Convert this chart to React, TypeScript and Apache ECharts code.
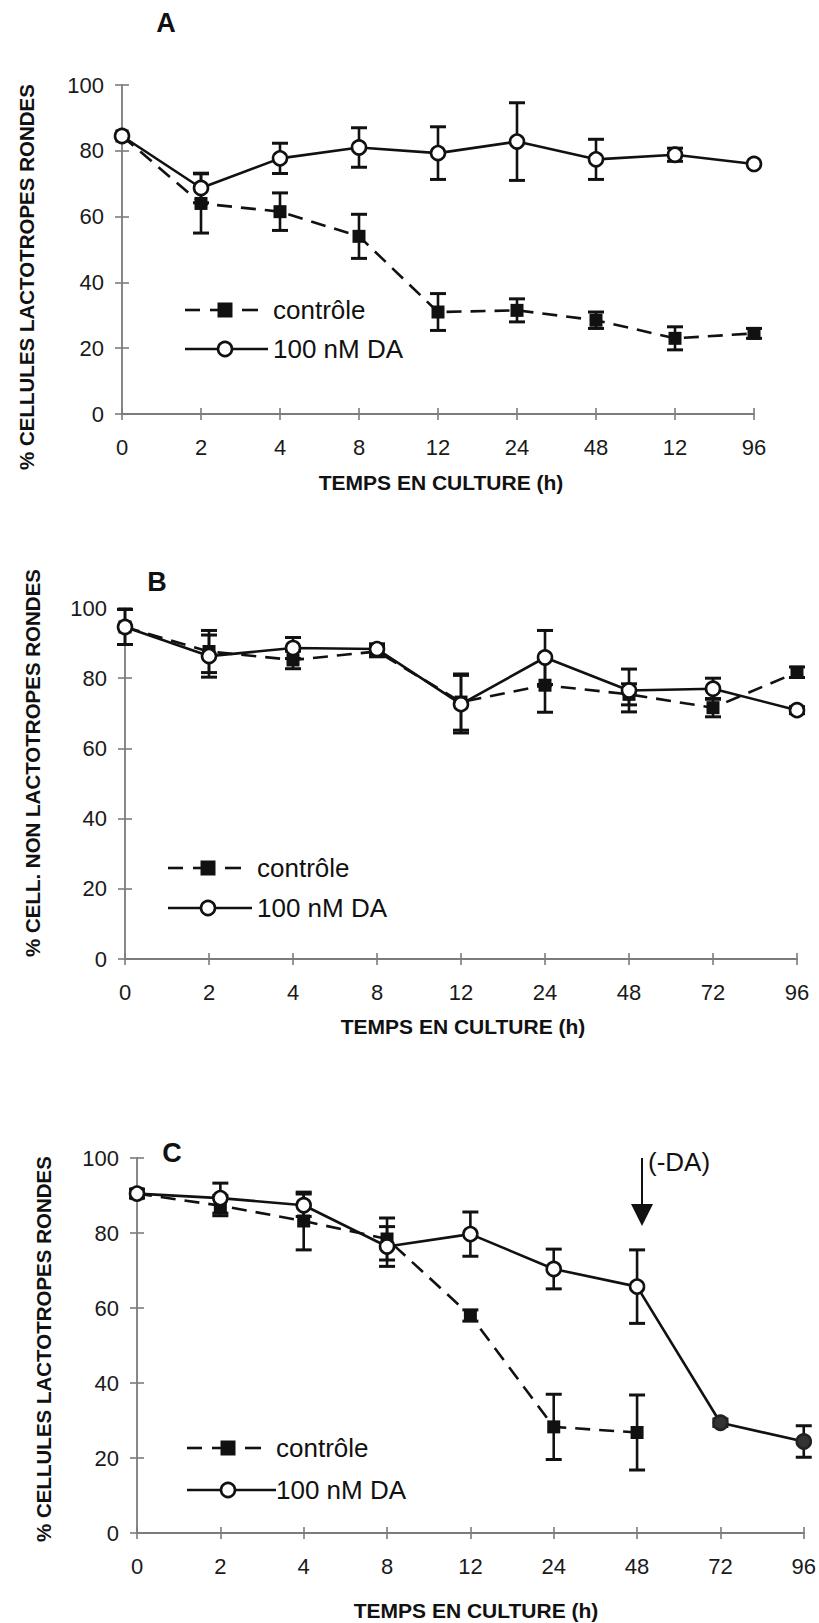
import React, { useEffect, useRef } from "react";
import * as echarts from "echarts";

// ---------- data ----------
const HOURS = ["0", "2", "4", "8", "12", "24", "48", "72", "96"];
const A_TICK_LABELS = ["0", "2", "4", "8", "12", "24", "48", "12", "96"];
const B_TICK_LABELS = ["0", "2", "4", "8", "12", "24", "48", "72", "96"];
const C_TICK_LABELS = ["0", "2", "4", "8", "12", "24", "48", "72", "96"];

// Panel A : % cellules lactotropes rondes
const CTRL_A = [84.5, 64, 61.5, 54, 31, 31.5, 28.5, 23, 24.5];
const CTRL_A_ERR = [0, 9, 5.7, 6.7, 5.6, 3.5, 2.5, 3.5, 1.5];
const DA_A = [84.5, 68.7, 77.7, 81, 79.3, 82.8, 77.4, 78.8, 76];
const DA_A_ERR = [0, 4.5, 4.6, 6, 8, 11.8, 6.1, 2, 0];

// Panel B : % cell. non lactotropes rondes
const CTRL_B = [94.6, 87.6, 85.2, 87.6, 73.2, 78, 75.4, 71.6, 81.7];
const CTRL_B_ERR = [5, 6, 2.5, 1.5, 8, 7.7, 3, 2.6, 1.5];
const DA_B = [94.6, 86.3, 88.6, 88.3, 72.6, 85.9, 76.5, 77, 70.9];
const DA_B_ERR = [5, 6, 3, 1.5, 8.2, 7.7, 6.1, 3, 1];

// Panel C : % cellules lactotropes rondes, DA withdrawn after 48 h
const CTRL_C = [90.5, 87.3, 83.2, 78.4, 58, 28.3, 26.8, null, null];
const CTRL_C_ERR = [0, 2.7, 7.7, 5.6, 1.5, 8.7, 10, 0, 0];
const DA_C = [90.5, 89.3, 87.4, 76.4, 79.7, 70.4, 65.7, 29.4, 24.4];
const DA_C_ERR = [1.2, 4, 3, 5.3, 5.9, 5.3, 9.8, 1, 4.2];
const DA_WITHDRAWN_AFTER = "48";

const Y_MIN = 0;
const Y_MAX = 100;
const Y_STEP = 20;

const LEGEND_CTRL = "contrôle";
const LEGEND_DA = "100 nM DA";
const X_TITLE = "TEMPS EN CULTURE (h)";
const Y_TITLE_A = "% CELLULES LACTOTROPES RONDES";
const Y_TITLE_B = "% CELL. NON LACTOTROPES RONDES";
const Y_TITLE_C = "% CELLULES LACTOTROPES RONDES";
const ARROW_LABEL = "(-DA)";

// ---------- styling ----------
const FONT = '"Liberation Sans", Arial, Helvetica, sans-serif';
const INK = "#111";
const AXIS_GREY = "#7c7c7c";

const PANELS = [
  {
    grid: { left: 122, top: 85, width: 632, height: 329 },
    labels: A_TICK_LABELS,
    ctrl: CTRL_A, ctrlErr: CTRL_A_ERR, da: DA_A, daErr: DA_A_ERR,
    filledAfter: null as string | null,
  },
  {
    grid: { left: 125, top: 608, width: 672, height: 351 },
    labels: B_TICK_LABELS,
    ctrl: CTRL_B, ctrlErr: CTRL_B_ERR, da: DA_B, daErr: DA_B_ERR,
    filledAfter: null as string | null,
  },
  {
    grid: { left: 137, top: 1158, width: 667, height: 375 },
    labels: C_TICK_LABELS,
    ctrl: CTRL_C, ctrlErr: CTRL_C_ERR, da: DA_C, daErr: DA_C_ERR,
    filledAfter: DA_WITHDRAWN_AFTER as string | null,
  },
];

function errData(vals: (number | null)[], errs: number[]) {
  const out: number[][] = [];
  vals.forEach((v, i) => {
    if (v == null || !errs[i]) return;
    out.push([i, v - errs[i], v + errs[i]]);
  });
  return out;
}

function errSeries(data: number[][], g: number) {
  return {
    type: "custom",
    xAxisIndex: g * 2,
    yAxisIndex: g * 2,
    z: 1,
    clip: false,
    silent: true,
    data,
    encode: { x: 0, y: [1, 2] },
    renderItem: (_p: any, api: any) => {
      const x = api.value(0);
      const lo = api.coord([x, api.value(1)]);
      const hi = api.coord([x, api.value(2)]);
      const half = 8;
      const style = { stroke: INK, lineWidth: 2.6 };
      return {
        type: "group",
        children: [
          { type: "line", shape: { x1: lo[0], y1: lo[1], x2: hi[0], y2: hi[1] }, style },
          { type: "line", shape: { x1: lo[0] - half, y1: lo[1], x2: lo[0] + half, y2: lo[1] }, style: { stroke: INK, lineWidth: 3 } },
          { type: "line", shape: { x1: hi[0] - half, y1: hi[1], x2: hi[0] + half, y2: hi[1] }, style: { stroke: INK, lineWidth: 3 } },
        ],
      };
    },
  };
}

function textEl(text: string, x: number, y: number, size: number, bold: boolean, align = "left", rotation = 0) {
  return {
    type: "text",
    x,
    y,
    rotation,
    silent: true,
    style: {
      text,
      fill: INK,
      fontSize: size,
      fontWeight: bold ? "bold" : "normal",
      fontFamily: FONT,
      textAlign: align,
      align,
      textVerticalAlign: "middle",
      verticalAlign: "middle",
    },
  };
}

function lineEl(x1: number, y1: number, x2: number, y2: number, w = 2.6) {
  return { type: "line", silent: true, shape: { x1, y1, x2, y2 }, style: { stroke: INK, lineWidth: w } };
}

function legendEls(x0: number, yCtrl: number, yDa: number, sym: number, xEndDa: number, textX: number) {
  return [
    lineEl(x0, yCtrl, x0 + 15, yCtrl),
    lineEl(x0 + 25, yCtrl, sym, yCtrl),
    { type: "rect", silent: true, shape: { x: sym - 7.5, y: yCtrl - 7.5, width: 15, height: 15 }, style: { fill: INK } },
    lineEl(sym + 17, yCtrl, sym + 33, yCtrl),
    textEl(LEGEND_CTRL, textX, yCtrl, 26, false),
    lineEl(x0, yDa, xEndDa, yDa),
    { type: "circle", silent: true, shape: { cx: sym, cy: yDa, r: 7 }, style: { fill: "#fff", stroke: INK, lineWidth: 2.6 } },
    textEl(LEGEND_DA, textX, yDa, 26, false),
  ];
}

function buildOption() {
  const grid: any[] = [];
  const xAxis: any[] = [];
  const yAxis: any[] = [];
  const series: any[] = [];

  PANELS.forEach((p, g) => {
    grid.push({ ...p.grid, containLabel: false });
    const tickStyle = { color: AXIS_GREY, width: 1.6 };
    xAxis.push({
      gridIndex: g,
      type: "category",
      data: HOURS,
      boundaryGap: false,
      position: "bottom",
      axisLine: { show: true, lineStyle: { color: AXIS_GREY, width: 1.8 } },
      axisTick: { show: true, interval: 0, length: 6, lineStyle: tickStyle },
      axisLabel: {
        interval: 0,
        margin: 22,
        fontSize: 22,
        fontFamily: FONT,
        color: "#1a1a1a",
        formatter: (_v: string, i: number) => p.labels[i],
      },
      splitLine: { show: false },
    });
    xAxis.push({
      gridIndex: g,
      type: "category",
      data: HOURS,
      boundaryGap: false,
      position: "bottom",
      axisLine: { show: false },
      axisTick: { show: true, inside: true, interval: 0, length: 6, lineStyle: tickStyle },
      axisLabel: { show: false },
      splitLine: { show: false },
    });
    yAxis.push({
      gridIndex: g,
      type: "value",
      min: Y_MIN,
      max: Y_MAX,
      interval: Y_STEP,
      position: "left",
      axisLine: { show: true, lineStyle: { color: AXIS_GREY, width: 1.8 } },
      axisTick: { show: true, length: 7, lineStyle: tickStyle },
      axisLabel: { margin: 18, fontSize: 22, fontFamily: FONT, color: "#1a1a1a" },
      splitLine: { show: false },
    });
    yAxis.push({
      gridIndex: g,
      type: "value",
      min: Y_MIN,
      max: Y_MAX,
      interval: Y_STEP,
      position: "left",
      axisLine: { show: false },
      axisTick: { show: true, inside: true, length: 7, lineStyle: tickStyle },
      axisLabel: { show: false },
      splitLine: { show: false },
    });

    series.push(errSeries(errData(p.ctrl, p.ctrlErr), g));
    series.push(errSeries(errData(p.da, p.daErr), g));

    series.push({
      name: LEGEND_CTRL,
      type: "line",
      xAxisIndex: g * 2,
      yAxisIndex: g * 2,
      z: 3,
      data: p.ctrl,
      connectNulls: false,
      symbol: "rect",
      symbolSize: 13,
      itemStyle: { color: INK },
      lineStyle: { color: INK, width: 2.6, type: [15, 9] },
      clip: false,
      silent: true,
    });

    const afterIdx = p.filledAfter == null ? Infinity : HOURS.indexOf(p.filledAfter);
    series.push({
      name: LEGEND_DA,
      type: "line",
      xAxisIndex: g * 2,
      yAxisIndex: g * 2,
      z: 4,
      data: p.da.map((v, i) =>
        i > afterIdx ? { value: v, itemStyle: { color: "#333", borderColor: "#222" } } : v
      ),
      symbol: "circle",
      symbolSize: 14,
      showAllSymbol: true,
      itemStyle: { color: "#fff", borderColor: INK, borderWidth: 2.6 },
      lineStyle: { color: INK, width: 2.6, type: "solid" },
      clip: false,
      silent: true,
    });
  });

  const graphic: any[] = [
    textEl("A", 166, 23, 27, true, "center"),
    textEl("B", 157, 582, 27, true, "center"),
    textEl("C", 172, 1153, 27, true, "center"),
    textEl(Y_TITLE_A, 26, 277, 20.5, true, "center", Math.PI / 2),
    textEl(Y_TITLE_B, 32, 763, 20.5, true, "center", Math.PI / 2),
    textEl(Y_TITLE_C, 43, 1349, 20.5, true, "center", Math.PI / 2),
    textEl(X_TITLE, 441, 482, 21, true, "center"),
    textEl(X_TITLE, 463, 1026, 21, true, "center"),
    textEl(X_TITLE, 476, 1610, 21, true, "center"),
    ...legendEls(185, 310, 349, 225, 268, 273),
    ...legendEls(168, 868, 908, 208, 252, 257),
    ...legendEls(187, 1448, 1490, 228, 276, 276),
    lineEl(642, 1158, 642, 1208, 2),
    { type: "polygon", silent: true, shape: { points: [[631, 1204], [653, 1204], [642, 1226]] }, style: { fill: INK } },
    textEl(ARROW_LABEL, 648, 1162, 26, false),
  ];

  return {
    animation: false,
    backgroundColor: "#ffffff",
    grid,
    xAxis,
    yAxis,
    series,
    graphic,
  };
}

export default function App() {
  const ref = useRef<HTMLDivElement | null>(null);
  useEffect(() => {
    if (!ref.current) return;
    const chart = echarts.init(ref.current, undefined, { renderer: "svg" });
    chart.setOption(buildOption() as any);
    return () => chart.dispose();
  }, []);
  return (
    <div
      ref={ref}
      style={{ position: "absolute", left: 0, top: 0, width: 819, height: 1623, background: "#fff" }}
    />
  );
}
